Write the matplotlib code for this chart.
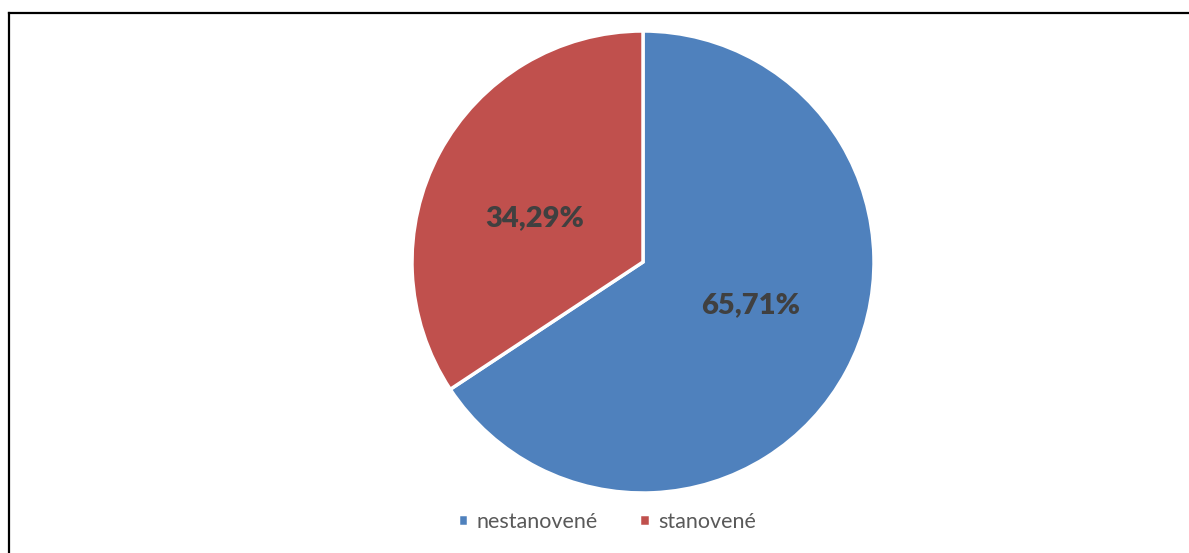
import matplotlib.pyplot as plt
from matplotlib.lines import Line2D

labels = ['nestanovené', 'stanovené']
values = [65.71, 34.29]
colors = ['#4F81BD', '#C0504D']

plt.rcParams['font.family'] = ['Lato', 'DejaVu Sans']

W, H = 1189, 553
fig = plt.figure(figsize=(W / 100, H / 100), dpi=100)

# pie axes placed in pixel terms: centre (643, 262), radius 231
cx, cy, r = 643, 262, 231
ax = fig.add_axes([(cx - r) / W, (H - cy - r) / H, 2 * r / W, 2 * r / H])
wedges, texts, autotexts = ax.pie(
    values, colors=colors, startangle=90, counterclock=False,
    autopct=lambda p: '{:.2f}%'.format(p).replace('.', ','),
    pctdistance=0.51, radius=1,
    wedgeprops=dict(edgecolor='white', linewidth=2.5),
    textprops=dict(color='#404040', fontsize=21, fontweight='heavy'))
# excel puts the labels a bit flatter than the wedge bisector
for t in autotexts:
    x, y = t.get_position()
    t.set_position((x * 1.04, y * 0.78))
ax.set_xlim(-1, 1)
ax.set_ylim(-1, 1)
ax.set_aspect('equal')
ax.axis('off')

fig.legend(wedges, labels, loc='center', bbox_to_anchor=(607 / W, 1 - 522 / H),
           ncol=2, frameon=False, handlelength=0.5, handleheight=0.5,
           handletextpad=0.4, columnspacing=1.9,
           prop=dict(size=15.5), labelcolor='#595959')

# frame (top and left edges visible)
x0 = 8.5 / W
y0 = 1 - 12.5 / H
fig.add_artist(Line2D([x0, 1], [y0, y0], color='black', linewidth=1.6, transform=fig.transFigure))
fig.add_artist(Line2D([x0, x0], [0, y0], color='black', linewidth=1.6, transform=fig.transFigure))

fig.savefig('out.png', dpi=100, facecolor='white')
